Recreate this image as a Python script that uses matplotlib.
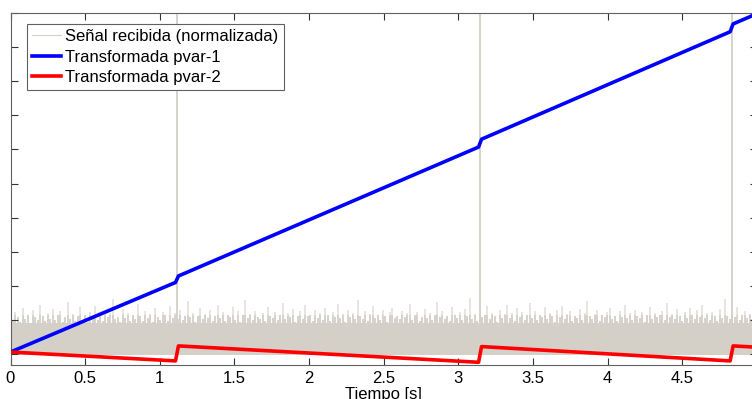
import numpy as np
import matplotlib
matplotlib.use("Agg")
import matplotlib.pyplot as plt

plt.rcParams['font.family'] = ['Liberation Sans', 'DejaVu Sans']

# --- data ---
x_ticks = [0, 0.5, 1, 1.5, 2, 2.5, 3, 3.5, 4, 4.5, 5]
x_ticklabels = ['0', '0.5', '1', '1.5', '2', '2.5', '3', '3.5', '4', '4.5', '5']
y_ticks = [0, 1, 2, 3, 4, 5, 6, 7, 8, 9, 10]

# event times (signal pulses) where the transforms jump
pulse_times = [1.115, 3.145, 4.83]
pulse_height = 12.0

# pvar-1 (blue) and pvar-2 (red) breakpoints
curve_t = [0.0, 1.105, 1.125, 3.135, 3.155, 4.82, 4.84, 5.0]
pvar1 = [0.06, 2.10, 2.29, 6.07, 6.30, 9.45, 9.68, 9.98]
pvar2 = [0.06, -0.20, 0.24, -0.24, 0.22, -0.20, 0.24, 0.20]

# received signal (normalized): dense floor plus spiky peak envelope
noise_floor = 0.92
noise_dense_top = 1.15
noise_bottom = -0.02
noise_peaks = [
    1.05,0.98,1.22,1.10,0.95,1.35,1.02,1.15,0.92,1.28,1.08,1.00,1.45,1.12,0.96,1.20,1.04,1.31,0.99,1.14,
    1.25,0.94,1.09,1.52,1.03,1.18,0.97,1.11,1.38,1.01,1.16,0.93,1.24,1.06,1.42,1.00,1.13,0.96,1.27,1.08,
    1.19,1.62,1.02,1.10,0.95,1.33,1.07,1.21,0.98,1.15,1.04,1.48,1.12,0.97,1.26,1.05,1.17,0.94,1.36,1.09,
    1.01,1.23,1.14,0.96,1.40,1.06,1.19,1.03,1.29,0.99,1.11,1.55,1.08,1.20,0.95,1.13,1.34,1.02,1.17,1.07,
    1.30,0.97,1.12,1.44,1.05,1.22,0.98,1.16,1.09,1.37,1.01,1.25,0.94,1.14,1.60,1.06,1.18,1.00,1.27,1.10,
    1.03,1.21,0.96,1.39,1.13,1.07,1.24,0.99,1.15,1.50,1.04,1.19,1.08,1.32,0.95,1.12,1.26,1.02,1.43,1.11,
    1.16,0.98,1.28,1.06,1.20,1.01,1.35,1.14,0.97,1.23,1.09,1.46,1.05,1.17,0.93,1.30,1.10,1.21,1.03,1.58,
    1.12,1.04,1.25,0.96,1.18,1.41,1.07,1.15,1.00,1.29,1.11,0.95,1.22,1.36,1.06,1.13,1.02,1.27,1.09,1.19,
    1.47,1.01,1.14,1.24,0.97,1.10,1.33,1.05,1.20,0.99,1.16,1.53,1.08,1.26,1.03,1.12,0.96,1.38,1.15,1.06,
    1.22,1.00,1.31,1.11,1.64,1.04,1.18,0.98,1.27,1.09,1.15,1.40,1.02,1.21,1.13,0.95,1.29,1.07,1.17,1.44,
    1.05,1.19,0.97,1.34,1.10,1.23,1.01,1.14,1.49,1.06,1.25,0.99,1.16,1.08,1.37,1.03,1.20,1.12,0.94,1.28,
    1.09,1.42,1.04,1.17,1.26,0.98,1.13,1.06,1.32,1.00,1.21,1.57,1.11,1.03,1.18,1.29,0.96,1.15,1.08,1.24,
    1.36,1.02,1.13,0.97,1.27,1.10,1.45,1.05,1.19,1.01,1.30,1.12,1.07,1.23,0.95,1.16,1.39,1.04,1.20,1.09,
    1.14,1.26,1.00,1.51,1.08,1.17,1.03,1.31,1.11,0.98,1.22,1.06,1.35,1.15,1.02,1.28,1.10,1.43,1.05,1.19,
    1.01,1.24,1.12,0.96,1.33,1.07,1.61,1.13,1.04,1.21,1.09,1.38,1.00,1.16,1.27,1.06,1.18,1.02,1.30,1.11,
]
noise_t = np.linspace(0, 5, len(noise_peaks))

labels = ['Señal recibida (normalizada)', 'Transformada pvar-1', 'Transformada pvar-2']

# --- figure ---
W, H = 752, 399
fig = plt.figure(figsize=(W / 100, H / 100), dpi=100)
ax_left, ax_right, ax_top, ax_bottom = 10.5, 757.0, 13.0, 365.0
ax = fig.add_axes([ax_left / W, (H - ax_bottom) / H,
                   (ax_right - ax_left) / W, (ax_bottom - ax_top) / H])

gray = '#d4d0c8'
gray_light = '#e4e0da'

peaks = np.asarray(noise_peaks)
ax.fill_between([0, 5], noise_bottom, noise_floor, color=gray, lw=0, zorder=1)
ax.vlines(noise_t, noise_floor - 0.01, peaks, color=gray_light, lw=1.2, zorder=1)
ax.vlines(noise_t, noise_floor - 0.01, np.minimum(peaks, noise_dense_top),
          color=gray, lw=1.2, zorder=1.1)
ax.vlines(pulse_times, noise_bottom, pulse_height, color=gray, lw=1.3, zorder=1)
ax.plot([], [], color=gray, lw=0.8, label=labels[0])

ax.plot(curve_t, pvar1, color='#0000ff', lw=2.6, label=labels[1], zorder=3,
        solid_joinstyle='round')
ax.plot(curve_t, pvar2, color='#ff0000', lw=2.6, label=labels[2], zorder=3,
        solid_joinstyle='round')

ax.set_xlim(0, 5)
ax.set_ylim(-0.32, 10)
ax.set_xticks(x_ticks)
ax.set_xticklabels(x_ticklabels, fontsize=12)
ax.set_yticks(y_ticks)
ax.set_yticklabels([])
ax.tick_params(direction='in', length=5, width=0.8, color='#333333',
               top=True, right=True, pad=4, labelsize=12)
for s in ax.spines.values():
    s.set_color('#606060')
    s.set_linewidth(0.8)

ax.set_xlabel('Tiempo [s]', fontsize=12, labelpad=1)

leg = ax.legend(loc='upper left',
                bbox_to_anchor=((27 - ax_left) / (ax_right - ax_left),
                                (ax_bottom - 24) / (ax_bottom - ax_top)),
                borderaxespad=0, fontsize=12, fancybox=False, framealpha=1,
                edgecolor='#606060', handlelength=1.75, handletextpad=0.22,
                labelspacing=0.32, borderpad=0.32)
leg.get_frame().set_linewidth(0.8)

fig.savefig('out.png', dpi=100)
